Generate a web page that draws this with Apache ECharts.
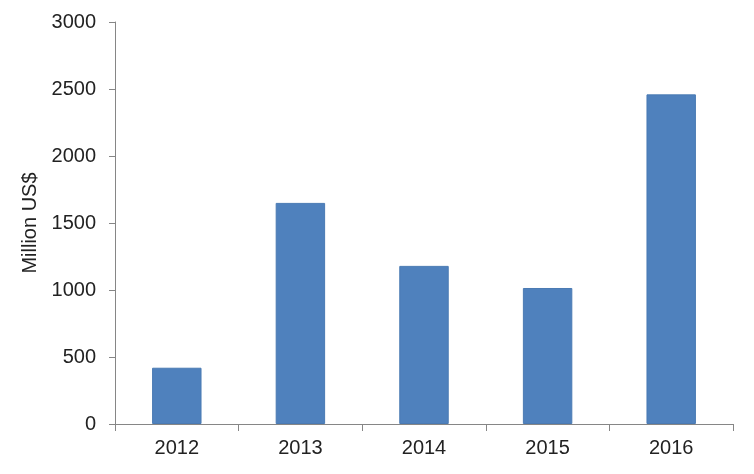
<!DOCTYPE html>
<html>
<head>
<meta charset="utf-8">
<script src="https://cdn.jsdelivr.net/npm/echarts@6/dist/echarts.min.js"></script>
<style>html,body{margin:0;padding:0;background:#fff;}#c{width:754px;height:474px;}</style>
</head>
<body>
<div id="c"></div>
<script>
const categories = ['2012', '2013', '2014', '2015', '2016'];
const values = [420, 1650, 1180, 1015, 2460];
const yTicks = [0, 500, 1000, 1500, 2000, 2500, 3000];
const yTitle = 'Million US$';

const chart = echarts.init(document.getElementById('c'), null, {renderer: 'canvas'});
chart.setOption({
  animation: false,
  backgroundColor: '#ffffff',
  grid: {left: 115, right: 21, top: 22, bottom: 50, containLabel: false},
  xAxis: {
    type: 'category',
    data: categories,
    boundaryGap: true,
    axisLine: {lineStyle: {color: '#868686', width: 1}},
    axisTick: {show: true, inside: false, length: 7, alignWithLabel: false, lineStyle: {color: '#868686'}},
    axisLabel: {color: '#222', fontSize: 20, fontFamily: 'Liberation Sans, Arial, sans-serif', margin: 14}
  },
  yAxis: {
    type: 'value',
    min: yTicks[0],
    max: yTicks[yTicks.length - 1],
    interval: 500,
    name: yTitle,
    nameLocation: 'middle',
    nameRotate: 90,
    nameGap: 61,
    nameTextStyle: {color: '#222', fontSize: 20, fontFamily: 'Liberation Sans, Arial, sans-serif'},
    axisLine: {show: true, lineStyle: {color: '#868686', width: 1}},
    axisTick: {show: true, inside: false, length: 6, lineStyle: {color: '#868686'}},
    splitLine: {show: false},
    axisLabel: {
      color: '#222', fontSize: 20, fontFamily: 'Liberation Sans, Arial, sans-serif', margin: 19,
      formatter: function (v) { return String(v); }
    }
  },
  series: [{
    type: 'bar',
    data: values,
    barWidth: '40%',
    itemStyle: {color: '#4f81bd', borderColor: '#4a7ab3', borderWidth: 1}
  }]
});
</script>
</body>
</html>
